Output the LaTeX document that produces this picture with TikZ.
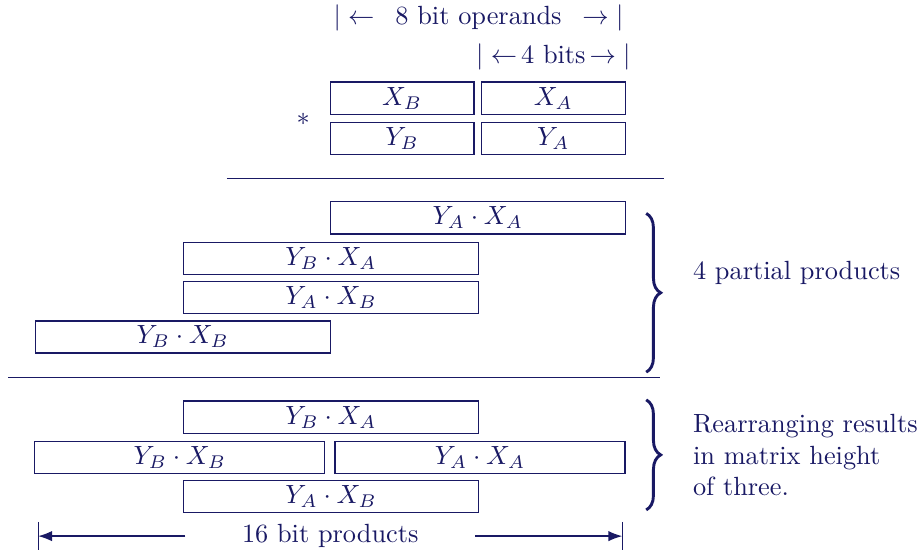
\documentclass[tikz,border=0pt]{standalone}
\usepackage{amsmath}
\usetikzlibrary{arrows.meta,decorations.pathreplacing,positioning}
\definecolor{navy}{RGB}{25,25,100}

\tikzset{
  half/.style={draw, minimum width=1.92cm, minimum height=0.43cm, inner sep=0pt},
  full/.style={half, minimum width=3.94cm},
  part/.style={half, minimum width=3.87cm},
  curly/.style={decorate, decoration={brace, amplitude=5.5pt}, line width=1.1pt},
}

\begin{document}
\begin{tikzpicture}[color=navy, line width=0.5pt]
    \useasboundingbox (0,0) rectangle (12.30,-7.37);
    % widths of the operands
    \node[inner sep=0pt] (ops) at (6.39,-0.24) {\makebox[3.87cm]{$|\leftarrow$\hfill 8 bit operands\hfill$\rightarrow|$}};
    \node[inner sep=0pt] (bits) at (7.39,-0.76) {$|\leftarrow$\kern1.5pt 4 bits\kern1.5pt$\rightarrow|$};
    % operands
    \node[half] (xb) at (5.37,-1.31) {$X_B$};
    \node[half] (xa) at (7.39,-1.31) {$X_A$};
    \node[half] (yb) at (5.37,-1.85) {$Y_B$};
    \node[half] (ya) at (7.39,-1.85) {$Y_A$};
    \node (times) at (4.05,-1.60) {$*$};
    \draw (3.03,-2.38) -- (8.87,-2.38);
    % partial products
    \node[full] (p1) at (6.38,-2.91) {$Y_A \cdot X_A$};
    \node[full] (p2) at (4.42,-3.45) {$Y_B \cdot X_A$};
    \node[full] (p3) at (4.42,-3.97) {$Y_A \cdot X_B$};
    \node[full] (p4) at (2.44,-4.50) {$Y_B \cdot X_B$};
    \draw[curly] (8.63,-2.85) -- (8.63,-4.97);
    \node[anchor=west] (four) at (9.13,-3.65) {4 partial products};
    \draw (0.11,-5.04) -- (8.82,-5.04);
    % rearranged
    \node[full] (q1) at (4.42,-5.57) {$Y_B \cdot X_A$};
    \node[part] (q2) at (2.40,-6.11) {$Y_B \cdot X_B$};
    \node[part] (q3) at (6.41,-6.11) {$Y_A \cdot X_A$};
    \node[full] (q4) at (4.42,-6.63) {$Y_A \cdot X_B$};
    \draw[curly] (8.63,-5.34) -- (8.63,-6.81);
    \node[anchor=west, align=left] (three) at (9.13,-6.08) {Rearranging results\\in matrix height\\of three.};
    % result width
    \node[minimum width=3.85cm, inner sep=0pt] (dim) at (4.41,-7.16) {16 bit products};
    \coordinate (dl) at (0.51,-7.16);
    \coordinate (dr) at (8.31,-7.16);
    \draw[-{Latex}] (dim.west) -- (dl);
    \draw[-{Latex}] (dim.east) -- (dr);
    \draw ([yshift=0.19cm]dl) -- ([yshift=-0.19cm]dl);
    \draw ([yshift=0.19cm]dr) -- ([yshift=-0.19cm]dr);
\end{tikzpicture}
\end{document}
